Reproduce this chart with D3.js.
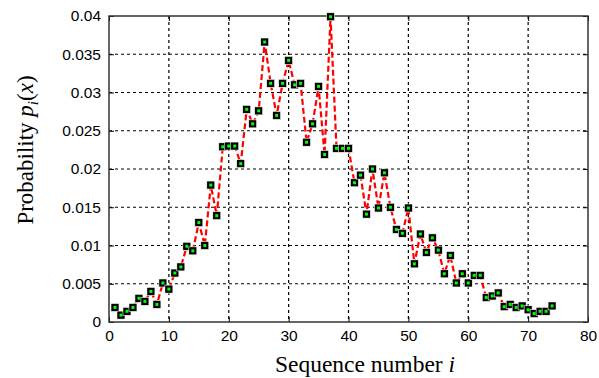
<!DOCTYPE html>
<html><head><meta charset="utf-8">
<script src="https://cdn.jsdelivr.net/npm/d3@7"></script>
<style>body{margin:0;background:#fff}svg{display:block}</style>
</head><body>
<script>
const seq = d3.range(1, 75);
const prob = [0.0019,0.0009,0.0014,0.0019,0.0031,0.0027,0.0040,0.0023,0.0051,0.0043,
0.0064,0.0072,0.0099,0.0093,0.0130,0.0100,0.0179,0.0139,0.0229,0.0230,
0.0230,0.0207,0.0278,0.0259,0.0276,0.0366,0.0312,0.0270,0.0312,0.0342,
0.0310,0.0312,0.0235,0.0259,0.0308,0.0219,0.0399,0.0227,0.0227,0.0227,
0.0182,0.0192,0.0141,0.0200,0.0149,0.0195,0.0150,0.0121,0.0116,0.0149,
0.0076,0.0115,0.0091,0.0110,0.0094,0.0063,0.0087,0.0051,0.0063,0.0051,
0.0061,0.0061,0.0032,0.0034,0.0038,0.0020,0.0023,0.0019,0.0021,0.0016,
0.0011,0.0014,0.0014,0.0021];
const xTicks = [0,10,20,30,40,50,60,70,80];
const yTicks = [0,0.005,0.01,0.015,0.02,0.025,0.03,0.035,0.04];
const yTickLabels = ["0","0.005","0.01","0.015","0.02","0.025","0.03","0.035","0.04"];

const W = 599, H = 378;
const L = 109, R = 588, T = 16, B = 322;
const svg = d3.select("body").append("svg").attr("width", W).attr("height", H);
const x = d3.scaleLinear().domain([0, 80]).range([L, R]);
const y = d3.scaleLinear().domain([0, 0.04]).range([B, T]);

// grid
const g = svg.append("g");
g.selectAll(".vg").data(xTicks.slice(1, -1)).enter().append("line")
  .attr("x1", d => x(d)).attr("x2", d => x(d)).attr("y1", T).attr("y2", B)
  .attr("stroke", "#000").attr("stroke-width", 1.2).attr("stroke-dasharray", "3,3");
g.selectAll(".hg").data(yTicks.slice(1, -1)).enter().append("line")
  .attr("y1", d => y(d)).attr("y2", d => y(d)).attr("x1", L).attr("x2", R)
  .attr("stroke", "#000").attr("stroke-width", 1.2).attr("stroke-dasharray", "3,3");

// axes
const xa = svg.append("g").attr("transform", `translate(0,${B})`)
  .call(d3.axisBottom(x).tickValues(xTicks).tickSizeInner(-5).tickSizeOuter(0).tickPadding(8));
const ya = svg.append("g").attr("transform", `translate(${L},0)`)
  .call(d3.axisLeft(y).tickValues(yTicks).tickFormat((d, i) => yTickLabels[i]).tickSizeInner(-5).tickSizeOuter(0).tickPadding(8));
const xt = svg.append("g").attr("transform", `translate(0,${T})`)
  .call(d3.axisTop(x).tickValues(xTicks).tickSizeInner(-5).tickSizeOuter(0).tickFormat(""));
const yr = svg.append("g").attr("transform", `translate(${R},0)`)
  .call(d3.axisRight(y).tickValues(yTicks).tickSizeInner(-5).tickSizeOuter(0).tickFormat(""));
[xa, ya, xt, yr].forEach(a => {
  a.select(".domain").remove();
  a.selectAll("line").attr("stroke", "#000");
  a.selectAll("text").attr("font-family", "Liberation Sans, Arial, sans-serif").attr("font-size", 15.5).attr("fill", "#000");
});
svg.append("rect").attr("x", L).attr("y", T).attr("width", R - L).attr("height", B - T)
  .attr("fill", "none").attr("stroke", "#333").attr("stroke-width", 1.5);

// line
const data = seq.map((s, i) => ({s, p: prob[i]}));
svg.append("path").datum(data)
  .attr("d", d3.line().x(d => x(d.s)).y(d => y(d.p)))
  .attr("fill", "none").attr("stroke", "#ff0000").attr("stroke-width", 2.2).attr("stroke-dasharray", "6,3");

// markers
const m = svg.append("g");
m.selectAll("rect.o").data(data).enter().append("rect")
  .attr("x", d => x(d.s) - 4).attr("y", d => y(d.p) - 4).attr("width", 8).attr("height", 8)
  .attr("fill", "#000").attr("stroke", "#fff").attr("stroke-width", 0.6);
m.selectAll("rect.i").data(data).enter().append("rect")
  .attr("x", d => x(d.s) - 1.5).attr("y", d => y(d.p) - 1.5).attr("width", 3).attr("height", 3)
  .attr("fill", "#00ff00");

// labels
svg.append("text").attr("x", 365).attr("y", 372).attr("text-anchor", "middle")
  .attr("font-family", "Liberation Serif, Times New Roman, serif").attr("font-size", 23.5)
  .html('Sequence number <tspan font-style="italic">i</tspan>');
svg.append("text").attr("transform", `translate(33,150) rotate(-90)`).attr("text-anchor", "middle")
  .attr("font-family", "Liberation Serif, Times New Roman, serif").attr("font-size", 23)
  .html('Probability <tspan font-style="italic">p</tspan><tspan font-style="italic" font-size="15" dy="5">i</tspan><tspan dy="-5">(</tspan><tspan font-style="italic">x</tspan>)');
</script>
</body></html>
